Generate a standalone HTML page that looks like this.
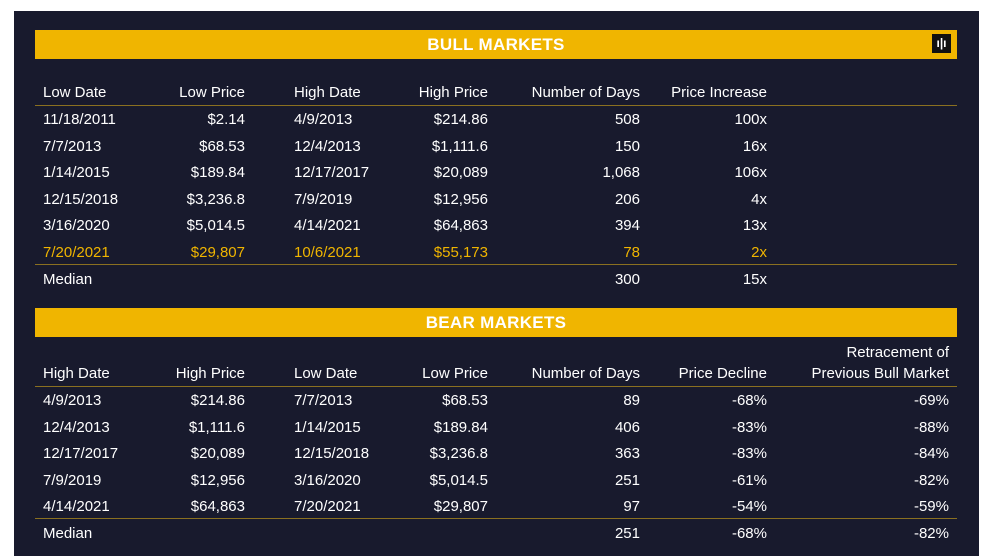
<!DOCTYPE html>
<html><head><meta charset="utf-8">
<style>
body{margin:0;width:987px;height:556px;background:#fff;position:relative;overflow:hidden;font-family:"Liberation Sans",sans-serif;}
#panel{position:absolute;left:14px;top:11px;width:965px;height:545px;background:#181a2d;}
.banner{position:absolute;left:35px;width:922px;height:29px;background:#f0b500;color:#fff;font-weight:bold;font-size:17px;text-align:center;line-height:30px;letter-spacing:0.3px;}
.line{position:absolute;left:35px;width:922px;height:1px;background:#8a7020;}
.c{position:absolute;color:#fff;font-size:15px;white-space:nowrap;line-height:18px;}
.r{text-align:right;}
.y{color:#f0b500;}
#logo{position:absolute;left:932px;top:34px;width:19px;height:19px;background:#111;color:#fff;font-size:12px;font-weight:bold;text-align:center;line-height:19px;}
</style></head><body>
<div id="panel"></div>
<div class="banner" style="top:30px">BULL MARKETS</div>
<div id="logo">ı|ı</div>
<div class="banner" style="top:308px">BEAR MARKETS</div>
<div class="line" style="top:105px"></div>
<div class="line" style="top:264px"></div>
<div class="line" style="top:386px"></div>
<div class="line" style="top:518px"></div>
<div class="c r" style="right:38px;top:344px">Retracement of</div>
<script>
const bullHeaders=["Low Date","Low Price","High Date","High Price","Number of Days","Price Increase"];
const bullRows=[
["11/18/2011","$2.14","4/9/2013","$214.86","508","100x"],
["7/7/2013","$68.53","12/4/2013","$1,111.6","150","16x"],
["1/14/2015","$189.84","12/17/2017","$20,089","1,068","106x"],
["12/15/2018","$3,236.8","7/9/2019","$12,956","206","4x"],
["3/16/2020","$5,014.5","4/14/2021","$64,863","394","13x"],
["7/20/2021","$29,807","10/6/2021","$55,173","78","2x"],
["Median","","","","300","15x"]];
const bearHeaders=["High Date","High Price","Low Date","Low Price","Number of Days","Price Decline","Previous Bull Market"];
const bearRows=[
["4/9/2013","$214.86","7/7/2013","$68.53","89","-68%","-69%"],
["12/4/2013","$1,111.6","1/14/2015","$189.84","406","-83%","-88%"],
["12/17/2017","$20,089","12/15/2018","$3,236.8","363","-83%","-84%"],
["7/9/2019","$12,956","3/16/2020","$5,014.5","251","-61%","-82%"],
["4/14/2021","$64,863","7/20/2021","$29,807","97","-54%","-59%"],
["Median","","","","251","-68%","-82%"]];
const cols=[{l:43},{r:245},{l:294},{r:488},{r:640},{r:767},{r:949}];
function cell(text,col,y,cls,name){
  const d=document.createElement('div');
  d.className='c'+(col.r?' r':'')+(cls?' '+cls:'');
  if(col.r){d.style.right=(987-col.r)+'px';}else{d.style.left=col.l+'px';}
  d.style.top=y+'px';
  d.textContent=text;
  
  
  document.body.appendChild(d);
}
bullHeaders.forEach((h,i)=>cell(h,cols[i],84,'', 'bull-header'));
bullRows.forEach((row,ri)=>row.forEach((t,i)=>{if(t)cell(t,cols[i],111+ri*26.6,ri===5?'y':'','bull-cell');}));
bearHeaders.forEach((h,i)=>cell(h,cols[i],365,'','bear-header'));
bearRows.forEach((row,ri)=>row.forEach((t,i)=>{if(t)cell(t,cols[i],392+ri*26.6,'','bear-cell');}));
</script>
</body></html>
